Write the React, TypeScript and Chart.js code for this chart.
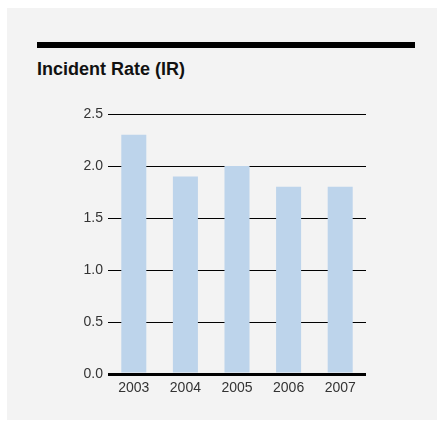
import React, { useEffect, useRef } from "react";
import { Chart, registerables } from "chart.js";

Chart.register(...registerables);

const title = "Incident Rate (IR)";
const years = ["2003", "2004", "2005", "2006", "2007"];
const incidentRate = [2.3, 1.9, 2.0, 1.8, 1.8];
const yMin = 0;
const yMax = 2.5;
const yStep = 0.5;

const FONT = "'Liberation Sans', Arial, Helvetica, sans-serif";

export default function App() {
  const canvasRef = useRef<HTMLCanvasElement | null>(null);

  useEffect(() => {
    const canvas = canvasRef.current;
    if (!canvas) return;
    const chart = new Chart(canvas, {
      type: "bar",
      data: {
        labels: years,
        datasets: [
          {
            data: incidentRate,
            backgroundColor: "#bdd4eb",
            borderWidth: 0,
            barPercentage: 0.485,
            categoryPercentage: 1,
          },
        ],
      },
      options: {
        responsive: false,
        animation: false,
        events: [],
        layout: { padding: { left: 60, right: 73, top: 114, bottom: 24 } },
        plugins: {
          legend: { display: false },
          title: { display: false },
          tooltip: { enabled: false },
        },
        scales: {
          x: {
            grid: { display: false, drawTicks: false },
            border: { display: false },
            ticks: {
              color: "#333333",
              font: { family: FONT, size: 14 },
              padding: 6,
              maxRotation: 0,
              autoSkip: false,
            },
            afterFit: (s: any) => {
              s.height = 24;
            },
          },
          y: {
            min: yMin,
            max: yMax,
            grid: {
              color: "#000000",
              lineWidth: (ctx: any) => (ctx.tick && ctx.tick.value === 0 ? 3 : 1),
              drawTicks: false,
            },
            border: { display: false },
            ticks: {
              stepSize: yStep,
              color: "#333333",
              font: { family: FONT, size: 14 },
              padding: 5,
              callback: (v: any) => Number(v).toFixed(1),
            },
            afterFit: (s: any) => {
              s.width = 48;
            },
          },
        },
      },
    });
    return () => chart.destroy();
  }, []);

  return (
    <div style={{ position: "fixed", left: 0, top: 0, width: 439, height: 422, background: "#ffffff" }}>
      <div style={{ position: "absolute", left: 7, top: 8, width: 430, height: 412, background: "#f3f3f3" }} />
      <div style={{ position: "absolute", left: 37, top: 42, width: 378, height: 6, background: "#000000" }} />
      <div
        style={{
          position: "absolute",
          left: 37,
          top: 58,
          fontFamily: FONT,
          fontWeight: "bold",
          fontSize: 18,
          lineHeight: "22px",
          color: "#111111",
          whiteSpace: "nowrap",
        }}
      >
        {title}
      </div>
      <canvas
        ref={canvasRef}
        width={439}
        height={422}
        style={{ position: "absolute", left: 0, top: 0, width: 439, height: 422 }}
      />
    </div>
  );
}
